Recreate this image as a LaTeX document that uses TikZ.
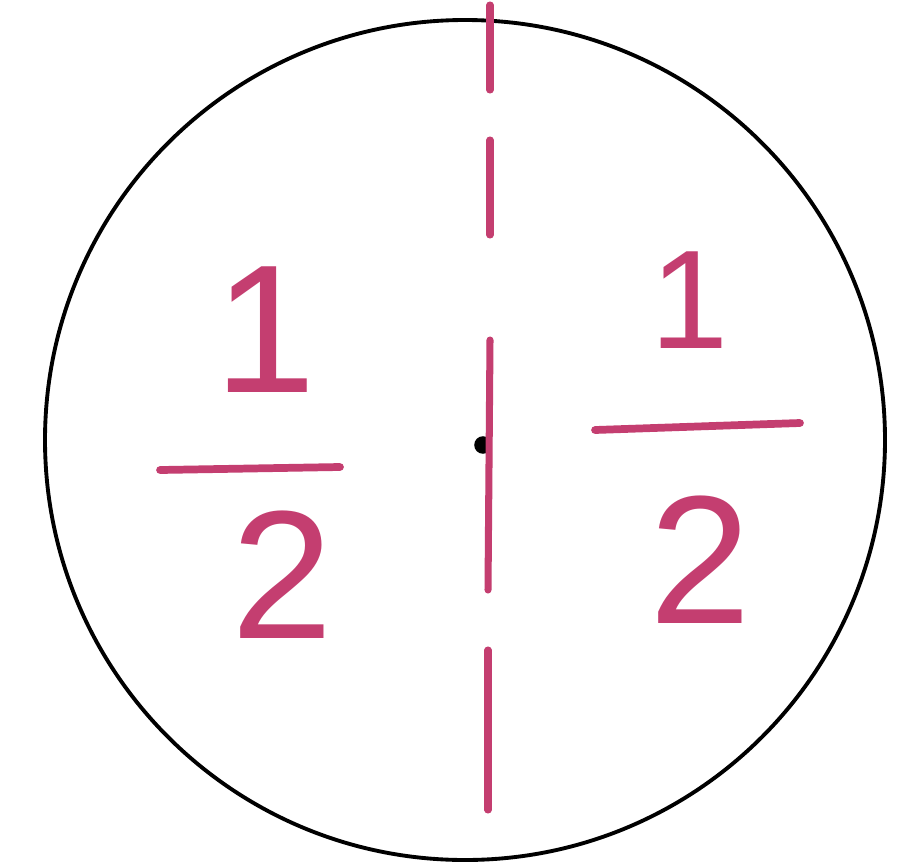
\documentclass[tikz,border=0pt]{standalone}
\usepackage{fontspec}
\setmainfont{Liberation Sans}
\definecolor{pinkink}{RGB}{196,62,112}
\begin{document}
\begin{tikzpicture}[x=1cm,y=1cm,
  numtext/.style={text=pinkink, font=\fontsize{52}{60}\selectfont, inner sep=0pt},
  smallnum/.style={text=pinkink, font=\fontsize{40}{48}\selectfont, inner sep=0pt},
  barline/.style={draw=pinkink, line width=2.2pt, line cap=round},
  axisline/.style={draw=pinkink, line width=2pt, line cap=round}]
\useasboundingbox (0,0) rectangle (8.98,8.65);
\fill[white] (0,0) rectangle (8.98,8.65);
% circle
\node (circ) [draw=black, line width=1.1pt, circle, minimum size=8.4cm, inner sep=0pt] at (4.65,4.25) {};
% centre dot
\node (dot) [fill=black, circle, inner sep=0pt, minimum size=5pt] at (4.83,4.2) {};
% dashed axis
\coordinate (a1) at (4.90,8.60); \coordinate (a2) at (4.90,7.75);
\coordinate (b1) at (4.90,7.25); \coordinate (b2) at (4.90,6.30);
\coordinate (c1) at (4.90,5.25); \coordinate (c2) at (4.88,2.75);
\coordinate (d1) at (4.88,2.15); \coordinate (d2) at (4.88,0.55);
\draw[axisline] (a1) -- (a2);
\draw[axisline] (b1) -- (b2);
\draw[axisline] (c1) -- (c2);
\draw[axisline] (d1) -- (d2);
% left fraction
\node (ln) [numtext] at (2.65,5.35) {1};
\coordinate (lb1) at (1.60,3.95); \coordinate (lb2) at (3.40,3.98);
\draw[barline] (lb1) -- (lb2);
\node (ld) [numtext] at (2.82,2.90) {2};
% right fraction
\node (rn) [smallnum] at (6.90,5.65) {1};
\coordinate (rb1) at (5.95,4.35); \coordinate (rb2) at (8.00,4.42);
\draw[barline] (rb1) -- (rb2);
\node (rd) [numtext] at (7.00,3.05) {2};
\end{tikzpicture}
\end{document}
